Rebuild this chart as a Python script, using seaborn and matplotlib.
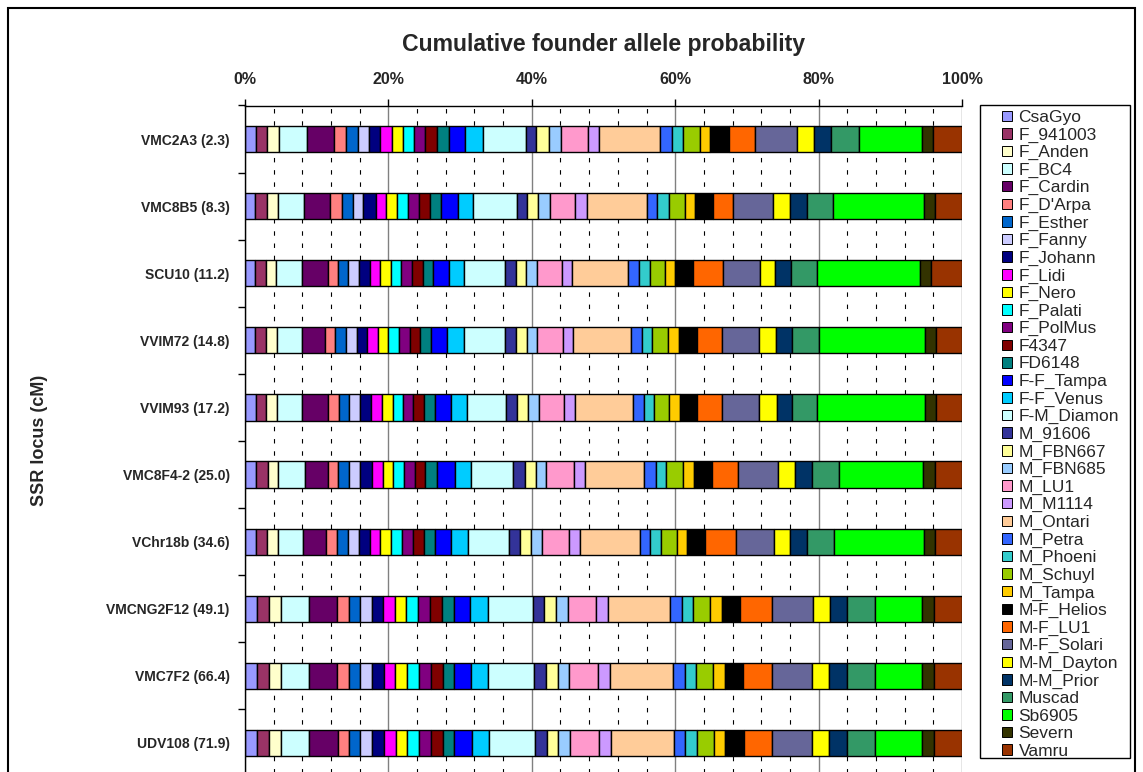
import matplotlib
matplotlib.use("Agg")
import numpy as np
import pandas as pd
import matplotlib.pyplot as plt
import seaborn as sns
from matplotlib.patches import Patch, Rectangle
from matplotlib.ticker import MultipleLocator, PercentFormatter

founders = ["CsaGyo", "F_941003", "F_Anden", "F_BC4", "F_Cardin", "F_D'Arpa",
            "F_Esther", "F_Fanny", "F_Johann", "F_Lidi", "F_Nero", "F_Palati",
            "F_PolMus", "F4347", "FD6148", "F-F_Tampa", "F-F_Venus", "F-M_Diamon",
            "M_91606", "M_FBN667", "M_FBN685", "M_LU1", "M_M1114", "M_Ontari",
            "M_Petra", "M_Phoeni", "M_Schuyl", "M_Tampa", "M-F_Helios", "M-F_LU1",
            "M-F_Solari", "M-M_Dayton", "M-M_Prior", "Muscad", "Sb6905", "Severn",
            "Vamru"]

colors = ["#9999FF", "#993366", "#FFFFCC", "#CCFFFF", "#660066", "#FF8080",
          "#0066CC", "#CCCCFF", "#000080", "#FF00FF", "#FFFF00", "#00FFFF",
          "#800080", "#800000", "#008080", "#0000FF", "#00CCFF", "#CCFFFF",
          "#333399", "#FFFF99", "#99CCFF", "#FF99CC", "#CC99FF", "#FFCC99",
          "#3366FF", "#33CCCC", "#99CC00", "#FFCC00", "#000000", "#FF6600",
          "#666699", "#FFFF00", "#003366", "#339966", "#00FF00", "#333300",
          "#993300"]

loci = ["VMC2A3 (2.3)", "VMC8B5 (8.3)", "SCU10 (11.2)", "VVIM72 (14.8)",
        "VVIM93 (17.2)", "VMC8F4-2 (25.0)", "VChr18b (34.6)", "VMCNG2F12 (49.1)",
        "VMC7F2 (66.4)", "UDV108 (71.9)"]

# founder allele probability (%) per locus, in founder order
vmc2a3 = [1.58, 1.54, 1.59, 3.95, 3.81, 1.59, 1.68, 1.48, 1.63, 1.63, 1.48, 1.63, 1.44,
          1.68, 1.68, 2.33, 2.42, 6.06, 1.44, 1.68, 1.68, 3.77, 1.58, 8.52, 1.63, 1.50,
          2.46, 1.40, 2.57, 3.72, 5.78, 2.46, 2.33, 3.95, 8.66, 1.63, 4.01]
vmc8b5 = [1.44, 1.59, 1.54, 3.72, 3.63, 1.63, 1.54, 1.44, 1.68, 1.50, 1.50, 1.58, 1.44,
          1.59, 1.58, 2.38, 2.05, 6.05, 1.50, 1.54, 1.58, 3.59, 1.68, 8.24, 1.44, 1.63,
          2.32, 1.40, 2.43, 2.88, 5.59, 2.33, 2.33, 3.72, 12.63, 1.48, 3.83]
scu10 = [1.44, 1.50, 1.44, 3.59, 3.63, 1.36, 1.48, 1.40, 1.54, 1.45, 1.48, 1.50, 1.50,
         1.48, 1.45, 2.18, 2.10, 5.73, 1.50, 1.50, 1.44, 3.49, 1.50, 7.77, 1.54, 1.54,
         2.10, 1.36, 2.47, 4.19, 5.25, 2.10, 2.19, 3.63, 14.35, 1.54, 4.33]
vvim72 = [1.42, 1.49, 1.49, 3.56, 3.17, 1.49, 1.49, 1.49, 1.49, 1.42, 1.49, 1.55, 1.42,
          1.49, 1.49, 2.26, 2.33, 5.76, 1.49, 1.49, 1.49, 3.56, 1.49, 8.02, 1.49, 1.49,
          2.26, 1.49, 2.46, 3.49, 5.24, 2.33, 2.20, 3.75, 14.88, 1.49, 3.62]
vvim93 = [1.55, 1.42, 1.49, 3.56, 3.56, 1.49, 1.49, 1.49, 1.55, 1.49, 1.49, 1.42, 1.49,
          1.49, 1.49, 2.20, 2.26, 5.50, 1.55, 1.49, 1.49, 3.56, 1.49, 8.09, 1.49, 1.49,
          2.07, 1.49, 2.39, 3.49, 5.24, 2.39, 2.13, 3.56, 15.07, 1.49, 3.62]
vmc8f4_2 = [1.55, 1.62, 1.49, 3.75, 3.10, 1.49, 1.55, 1.55, 1.55, 1.55, 1.49, 1.55, 1.49,
            1.42, 1.68, 2.39, 2.33, 5.89, 1.62, 1.49, 1.49, 3.82, 1.62, 8.21, 1.62, 1.42,
            2.39, 1.55, 2.46, 3.69, 5.56, 2.33, 2.33, 3.75, 11.84, 1.62, 3.75]
vchr18b = [1.49, 1.62, 1.49, 3.56, 3.17, 1.49, 1.49, 1.55, 1.55, 1.49, 1.49, 1.55, 1.49,
           1.55, 1.49, 2.33, 2.33, 5.69, 1.55, 1.55, 1.49, 3.82, 1.49, 8.34, 1.49, 1.49,
           2.20, 1.49, 2.39, 4.33, 5.37, 2.20, 2.33, 3.82, 12.55, 1.49, 3.82]
vmcng2f12 = [1.68, 1.62, 1.68, 3.88, 4.01, 1.62, 1.62, 1.62, 1.55, 1.62, 1.62, 1.62, 1.68,
             1.62, 1.68, 2.33, 2.39, 6.40, 1.49, 1.68, 1.62, 3.95, 1.62, 8.73, 1.62, 1.62,
             2.33, 1.68, 2.46, 4.53, 5.63, 2.39, 2.39, 3.88, 6.60, 1.62, 3.95]
vmc7f2 = [1.68, 1.62, 1.68, 3.88, 4.01, 1.62, 1.62, 1.62, 1.62, 1.62, 1.62, 1.68, 1.68,
          1.62, 1.62, 2.33, 2.39, 6.47, 1.62, 1.62, 1.62, 4.01, 1.62, 8.86, 1.68, 1.55,
          2.39, 1.68, 2.46, 4.08, 5.50, 2.46, 2.46, 3.88, 6.60, 1.62, 3.95]
udv108 = [1.68, 1.68, 1.62, 3.88, 4.08, 1.55, 1.62, 1.62, 1.62, 1.68, 1.62, 1.62, 1.68,
          1.62, 1.62, 2.46, 2.46, 6.40, 1.68, 1.55, 1.62, 4.08, 1.62, 8.73, 1.62, 1.62,
          2.39, 1.62, 2.59, 3.95, 5.50, 2.46, 2.46, 3.88, 6.53, 1.75, 3.88]

series = [vmc2a3, vmc8b5, scu10, vvim72, vvim93, vmc8f4_2, vchr18b,
          vmcng2f12, vmc7f2, udv108]

rows = []
for locus, vals in zip(loci, series):
    for f, v in zip(founders, vals):
        rows.append((locus, f, v))
df = pd.DataFrame(rows, columns=["locus", "founder", "prob"])

sns.set_theme(style="white")
plt.rcParams["font.family"] = ["Liberation Sans", "DejaVu Sans"]

W, H = 1143, 772
fig = plt.figure(figsize=(W / 100, H / 100), dpi=100)
ax = fig.add_axes([245 / W, -4.5 / H, 717 / W, 671 / H])

# 100% stacked horizontal bars; hue order reversed because seaborn stacks last level first
sns.histplot(data=df, y="locus", hue="founder", weights="prob", multiple="fill",
             discrete=True, shrink=0.39, hue_order=founders[::-1],
             palette=dict(zip(founders, colors)), edgecolor="black", linewidth=1.0,
             alpha=1, legend=False, ax=ax)

ax.set_xlim(0, 1)
ax.set_ylim(9.5, -0.5)
ax.set_xlabel("")
ax.set_ylabel("")

ax.xaxis.tick_top()
ax.xaxis.set_major_locator(MultipleLocator(0.2))
ax.xaxis.set_minor_locator(MultipleLocator(0.04))
ax.xaxis.set_major_formatter(PercentFormatter(1.0, decimals=0))
ax.grid(axis="x", which="major", color="#808080", lw=1.0, ls="-")
ax.grid(axis="x", which="minor", color="black", lw=0.8, ls=(0, (4, 7)))
ax.set_axisbelow(True)
ax.tick_params(axis="x", which="major", direction="out", length=5, width=1,
               pad=8, labelsize=11.5, top=True, bottom=False, color="black")
ax.tick_params(axis="x", which="minor", length=0, top=False, bottom=False)
for lbl in ax.get_xticklabels():
    lbl.set_fontweight("bold")

ax.set_yticks(range(len(loci)))
ax.set_yticklabels(loci, fontweight="bold", fontsize=10)
ax.set_yticks(np.arange(-0.5, len(loci), 1), minor=True)
ax.tick_params(axis="y", which="major", length=0, pad=11)
ax.tick_params(axis="y", which="minor", length=5, width=1, direction="out",
               left=True, color="black")

for side in ["right", "bottom"]:
    ax.spines[side].set_visible(False)
for side in ["top", "left"]:
    ax.spines[side].set_color("black")
    ax.spines[side].set_linewidth(1.0)

fig.text(604 / W, 1 - 45 / H, "Cumulative founder allele probability",
         ha="center", va="center", fontsize=16.6, fontweight="bold")
fig.text(39 / W, 1 - 440 / H, "SSR locus (cM)", rotation=90,
         ha="center", va="center", fontsize=13, fontweight="bold")

# outer chart border and legend frame
fig.add_artist(Rectangle((8 / W, -0.05), 1127 / W, 1.05 - 8 / H, transform=fig.transFigure,
                         fill=False, lw=1.5, ec="black"))
fig.add_artist(Rectangle((980 / W, 1 - 758 / H), 150 / W, (758 - 105) / H,
                         transform=fig.transFigure, fill=False, lw=1.0, ec="black"))

handles = [Patch(facecolor=c, edgecolor="black", linewidth=0.7) for c in colors]
fig.legend(handles, founders, loc="upper left", bbox_to_anchor=(1002 / W, 1 - 110 / H),
           frameon=False, fontsize=12.5, handlelength=0.55, handleheight=0.55,
           handletextpad=0.4, labelspacing=0.143, borderpad=0, borderaxespad=0)

fig.savefig("out.png", dpi=100)
